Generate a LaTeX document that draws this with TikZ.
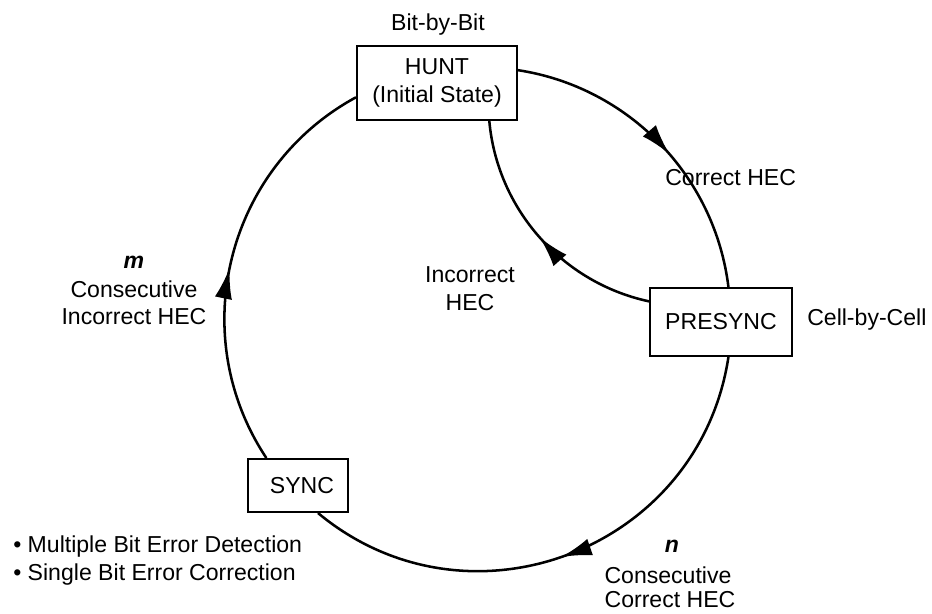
\documentclass[tikz,border=0pt]{standalone}
\usepackage{fontspec}
\setmainfont{Liberation Sans}
\usetikzlibrary{arrows.meta,decorations.markings}
\begin{document}
\begin{tikzpicture}[x=0.75pt,y=-0.75pt,
  every node/.style={font=\fontsize{17.3}{21}\selectfont, inner sep=0pt},
  statebox/.style={draw, line width=1.5pt, fill=white, align=center},
  flow/.style={line width=1.9pt},
  arrowat/.style={postaction={decorate,decoration={markings,mark=at position #1 with {\arrow{Latex[length=23pt,width=13pt]}}}}},
  lbl/.style={anchor=base},
  lblw/.style={anchor=base west}
]
\useasboundingbox (0,0) rectangle (932,614);
% states
\node[statebox, minimum width=120pt, minimum height=55.5pt] (hunt) at (437,83) {HUNT\\(Initial State)};
\node[statebox, minimum width=106.5pt, minimum height=51pt] (presync) at (721,322) {PRESYNC};
\node[statebox, minimum width=75pt, minimum height=39.75pt] (sync) at (298,485.5) {\hspace{6pt}SYNC};
% transitions
\draw[flow, arrowat=0.545] (hunt.9) to[bend left=37.15, looseness=0.948] (presync.78);
\draw[flow, arrowat=0.515] (presync.282) to[bend left=60.55, looseness=1.141] (sync.306);
\draw[flow, arrowat=0.475] (sync.139) to[bend left=47.55, looseness=1.017] (hunt.190);
\draw[flow, arrowat=0.5] (presync.164) to[bend left=36.4, looseness=0.942] (hunt.324);
% labels
\node[lbl] (bitbybit) at (438,30) {Bit-by-Bit};
\node[lblw] (correcthec) at (665,185) {Correct HEC};
\node[lblw] (cellbycell) at (807,325) {Cell-by-Cell};
\node[lbl] (incA) at (470,282) {Incorrect};
\node[lbl] (incB) at (470,310) {HEC};
\node[lbl] (mA) at (134,268) {\textbf{\textit{m}}};
\node[lbl] (mB) at (134,297) {Consecutive};
\node[lbl] (mC) at (134,324) {Incorrect HEC};
\node[lbl] (nA) at (672,552) {\textbf{\textit{n}}};
\node[lbl] (nB) at (668,583) {Consecutive};
\node[lbl] (nC) at (670,607) {Correct HEC};
\node[lblw] (bulA) at (13,552) {• Multiple Bit Error Detection};
\node[lblw] (bulB) at (13,580) {• Single Bit Error Correction};
\end{tikzpicture}
\end{document}
